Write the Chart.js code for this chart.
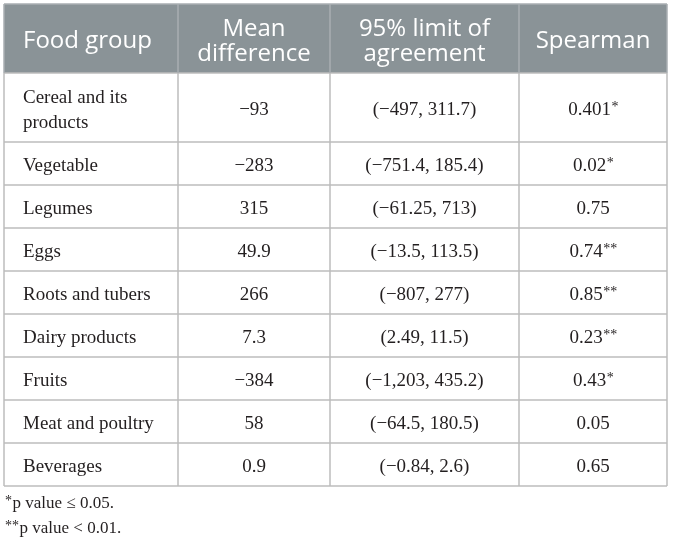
<!DOCTYPE html>
<html>
<head>
<meta charset="utf-8">
<script src="https://cdn.jsdelivr.net/npm/chart.js@4.4.1/dist/chart.umd.min.js"></script>
<style>
  html, body { margin: 0; padding: 0; background: #fff; }
  canvas { display: block; }
</style>
</head>
<body>
<canvas id="table-chart" width="673" height="544"></canvas>
<script>
// table content
const headers = ['Food group', 'Mean difference', '95% limit of agreement', 'Spearman'];
const foodGroups = ['Cereal and its products', 'Vegetable', 'Legumes', 'Eggs', 'Roots and tubers',
  'Dairy products', 'Fruits', 'Meat and poultry', 'Beverages'];
const meanDiff = [-93, -283, 315, 49.9, 266, 7.3, -384, 58, 0.9];
const limitLow = [-497, -751.4, -61.25, -13.5, -807, 2.49, -1203, -64.5, -0.84];
const limitHigh = [311.7, 185.4, 713, 113.5, 277, 11.5, 435.2, 180.5, 2.6];
const spearman = [0.401, 0.02, 0.75, 0.74, 0.85, 0.23, 0.43, 0.05, 0.65];
const spearmanSig = ['*', '*', '', '**', '**', '**', '*', '', ''];
const footnotes = ['*p value \u2264 0.05.', '**p value < 0.01.'];

// layout
const colWidths = [174, 152, 189, 148];
const LINE_GAP = 25;
const HEAD_FONT = '24px "Open Sans"';
const BODY_FONT = '19px "Liberation Serif"';
const SUP_FONT = '14px "Liberation Serif"';
const FOOT_FONT = '17px "Liberation Serif"';
const CELL_PAD = 19;

function fmt(n) {
  const s = Math.abs(n).toLocaleString('en-US', { maximumFractionDigits: 3 });
  return n < 0 ? '\u2212' + s : s;
}

// rows: header + body, text per column
const rows = [headers.map(h => ({ text: h, sup: '' }))];
foodGroups.forEach((g, i) => {
  rows.push([
    { text: g, sup: '' },
    { text: fmt(meanDiff[i]), sup: '' },
    { text: '(' + fmt(limitLow[i]) + ', ' + fmt(limitHigh[i]) + ')', sup: '' },
    { text: fmt(spearman[i]), sup: spearmanSig[i] }
  ]);
});

const measure = document.createElement('canvas').getContext('2d');
function wrap(text, font, maxW) {
  measure.font = font;
  const words = text.split(' ');
  const lines = [];
  let cur = '';
  words.forEach(w => {
    const t = cur ? cur + ' ' + w : w;
    if (cur && measure.measureText(t).width > maxW) {
      lines.push(cur);
      cur = w;
    } else {
      cur = t;
    }
  });
  lines.push(cur);
  return lines;
}

rows.forEach((row, r) => {
  row.forEach((cell, c) => {
    cell.lines = wrap(cell.text, r === 0 ? HEAD_FONT : BODY_FONT, colWidths[c] - CELL_PAD * 2);
  });
});
const rowHeights = rows.map(row => 17 + 26 * Math.max(...row.map(c => c.lines.length)));

const colEdges = [0];
colWidths.forEach(w => colEdges.push(colEdges[colEdges.length - 1] + w));
const rowEdges = [0];
rowHeights.forEach(h => rowEdges.push(rowEdges[rowEdges.length - 1] + h));

function drawWithSup(ctx, text, sup, x, y, align) {
  ctx.font = BODY_FONT;
  const w = ctx.measureText(text).width;
  ctx.font = SUP_FONT;
  const sw = sup ? ctx.measureText(sup).width : 0;
  let start = align === 'left' ? x : x - (w + sw) / 2;
  ctx.textAlign = 'left';
  ctx.font = BODY_FONT;
  ctx.fillText(text, start, y);
  if (sup) {
    ctx.font = SUP_FONT;
    ctx.fillText(sup, start + w + 0.5, y - 3);
  }
}

const tablePlugin = {
  id: 'tableCells',
  afterDraw(chart) {
    const { ctx, scales: { x, y } } = chart;
    const px = v => x.getPixelForValue(v);
    const py = v => y.getPixelForValue(v);
    const left = px(0), right = px(colEdges[colEdges.length - 1]);
    const top = py(0), headBottom = py(rowEdges[1]), bottom = py(rowEdges[rowEdges.length - 1]);

    ctx.save();
    // header background
    ctx.fillStyle = '#8a9397';
    ctx.fillRect(left, top, right - left, headBottom - top);

    // body grid
    ctx.strokeStyle = '#bdbdbd';
    ctx.lineWidth = 1.5;
    ctx.beginPath();
    for (let r = 1; r < rowEdges.length; r++) {
      ctx.moveTo(left, py(rowEdges[r]));
      ctx.lineTo(right, py(rowEdges[r]));
    }
    colEdges.forEach(v => {
      ctx.moveTo(px(v), headBottom);
      ctx.lineTo(px(v), bottom);
    });
    ctx.stroke();

    // header dividers and border
    ctx.strokeStyle = '#a9afb2';
    ctx.beginPath();
    colEdges.forEach(v => {
      ctx.moveTo(px(v), top);
      ctx.lineTo(px(v), headBottom);
    });
    ctx.moveTo(left, top);
    ctx.lineTo(right, top);
    ctx.stroke();

    // cell text
    ctx.textBaseline = 'middle';
    rows.forEach((row, r) => {
      const cy = (py(rowEdges[r]) + py(rowEdges[r + 1])) / 2 + 3;
      row.forEach((cell, c) => {
        const x0 = px(colEdges[c]), x1 = px(colEdges[c + 1]);
        const n = cell.lines.length;
        cell.lines.forEach((line, i) => {
          const ly = cy + (i - (n - 1) / 2) * LINE_GAP;
          const sup = i === n - 1 ? cell.sup : '';
          if (r === 0) {
            ctx.fillStyle = '#ffffff';
            ctx.font = HEAD_FONT;
            ctx.textAlign = c === 0 ? 'left' : 'center';
            ctx.fillText(line, c === 0 ? x0 + CELL_PAD : (x0 + x1) / 2, ly);
          } else {
            ctx.fillStyle = '#231f20';
            if (c === 0) drawWithSup(ctx, line, sup, x0 + CELL_PAD, ly, 'left');
            else drawWithSup(ctx, line, sup, (x0 + x1) / 2, ly, 'center');
          }
        });
      });
    });

    // footnotes
    ctx.fillStyle = '#231f20';
    footnotes.forEach((note, i) => {
      const m = note.match(/^(\*+)(.*)$/);
      const fy = bottom + 18 + i * 25;
      ctx.font = SUP_FONT;
      ctx.textAlign = 'left';
      ctx.fillText(m[1], left + 1, fy - 3);
      const sw = ctx.measureText(m[1]).width;
      ctx.font = FOOT_FONT;
      ctx.fillText(m[2], left + 1 + sw + 0.5, fy);
    });
    ctx.restore();
  }
};

const cellCenters = [];
rows.forEach((row, r) => row.forEach((cell, c) => {
  cellCenters.push({ x: (colEdges[c] + colEdges[c + 1]) / 2, y: (rowEdges[r] + rowEdges[r + 1]) / 2 });
}));

new Chart(document.getElementById('table-chart').getContext('2d'), {
  type: 'scatter',
  data: {
    datasets: [{ data: cellCenters, pointRadius: 0, pointHoverRadius: 0 }]
  },
  options: {
    responsive: false,
    animation: false,
    events: [],
    layout: { padding: { left: 4, right: 6, top: 4, bottom: 58 } },
    plugins: { legend: { display: false }, tooltip: { enabled: false } },
    scales: {
      x: { type: 'linear', display: false, min: 0, max: colEdges[colEdges.length - 1] },
      y: { type: 'linear', display: false, reverse: true, min: 0, max: rowEdges[rowEdges.length - 1] }
    }
  },
  plugins: [tablePlugin]
});
</script>
</body>
</html>
